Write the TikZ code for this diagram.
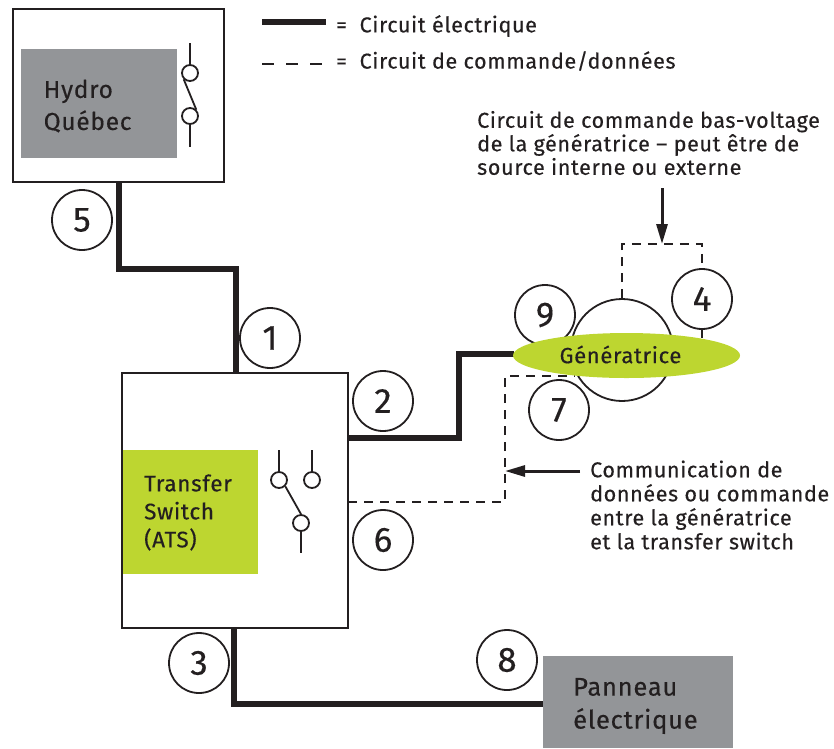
\documentclass[tikz,border=0pt]{standalone}
\usepackage{fontspec}
\setmainfont[LetterSpace=3,FakeBold=0.35]{Fira Sans}
\usetikzlibrary{arrows.meta,shapes.geometric}
\definecolor{ink}{HTML}{231F20}
\definecolor{greyfill}{HTML}{939598}
\definecolor{limefill}{HTML}{BDD630}
\tikzset{
  wire/.style={draw=ink,line width=5.5pt,line join=miter},
  ctrl/.style={draw=ink,line width=1.6pt,dash pattern=on 9pt off 7pt},
  legenddash/.style={draw=ink,line width=1.6pt,dash pattern=on 12pt off 12pt},
  thin/.style={draw=ink,line width=1.8pt},
  pointer/.style={draw=ink,line width=3pt,-{Triangle[length=20pt,width=11pt]}},
  frame/.style={draw=ink,line width=2pt,fill=white,minimum width=#1,inner sep=0pt,outer sep=0pt},
  panel/.style={fill=#1,inner sep=0pt,outer sep=0pt},
  numcirc/.style={circle,draw=ink,line width=1.8pt,minimum size=60pt,inner sep=0pt,font=\fontsize{35}{35}\selectfont,text=ink},
  swcirc/.style={circle,draw=ink,line width=1.8pt,minimum size=16pt,inner sep=0pt},
  lbl/.style 2 args={anchor=west,align=left,inner sep=0pt,text=ink,font=\fontsize{#1}{#2}\selectfont}
}
\begin{document}
\begin{tikzpicture}[x=1pt,y=-1pt]
\useasboundingbox (0,0) rectangle (834,748);
% boxes
\node[frame=211pt,minimum height=173pt] (hq) at (118.5,95.5) {};
\node[panel=greyfill,minimum width=156pt,minimum height=109pt] (hqp) at (99,103.5) {};
\node[lbl={24.5}{32}] (hqt) at (43.5,106) {Hydro\\Québec};
\node[frame=226pt,minimum height=255pt] (ats) at (235,500.5) {};
\node[panel=limefill,minimum width=135pt,minimum height=124pt] (atsp) at (190.5,512) {};
\node[lbl={22.5}{28}] (atst) at (144,512.5) {Transfer\\Switch\\(ATS)};
\node[panel=greyfill,minimum width=190pt,minimum height=92pt] (pan) at (638,702) {};
\node[lbl={25.5}{33}] (pant) at (573,706) {Panneau\\électrique};
% wires
\coordinate (hqout) at (119,182);
\coordinate (atsin) at (236,373);
\coordinate (atsout2) at (348,438);
\coordinate (genin) at (514,354);
\coordinate (atsout3) at (234,628);
\coordinate (panin) at (543,704);
\draw[wire] (hqout) -- (119,269) -- (236,269) -- (atsin);
\draw[wire] (atsout2) -- (459,438) -- (459,354) -- (genin);
\draw[wire] (atsout3) -- (234,704) -- (panin);
% HQ switch
\node[swcirc] (s1) at (190,73) {};
\node[swcirc] (s2) at (190,116) {};
\coordinate (s1t) at (190,43);
\coordinate (s2b) at (190,147);
\draw[thin] (s1t) -- (s1);
\draw[thin] (s2) -- (s2b);
\draw[thin] (s1.south west) -- (s2.north east);
% ATS switch
\node[swcirc] (a1) at (279,480) {};
\node[swcirc] (a2) at (312,480) {};
\node[swcirc] (a3) at (301,523) {};
\coordinate (a1t) at (279,450);
\coordinate (a2t) at (312,450);
\coordinate (a3b) at (301,553);
\draw[thin] (a1t) -- (a1);
\draw[thin] (a2t) -- (a2);
\draw[thin] (a3) -- (a3b);
\draw[thin] (a1.south east) -- (a3.north);
% numbers
\node[numcirc] (n5) at (82,220) {5};
\node[numcirc] (n1) at (270,338) {1};
\node[numcirc] (n2) at (383,401) {2};
\node[numcirc] (n6) at (383,540) {6};
\node[numcirc] (n3) at (199,663) {3};
\node[numcirc] (n8) at (507,660) {8};
\node[numcirc] (n9) at (545,315) {9};
\node[numcirc] (n4) at (702,299) {4};
\node[numcirc] (n7) at (559,410) {7};
% generator
\node[circle,draw=ink,line width=1.8pt,minimum size=102pt,inner sep=0pt] (gc) at (622,350) {};
\draw[thin] (n4.south) -- (702,338);
\draw[ctrl] (gc.north) -- (622,244) -- (702,244) -- (n4.north);
\coordinate (genctl) at (575,376);
\coordinate (atsctl) at (348,502);
\draw[ctrl] (atsctl) -- (505,502) -- (505,376) -- (genctl);
\node[ellipse,fill=limefill,minimum width=227pt,minimum height=45pt,inner sep=0pt,outer sep=0pt] (gen) at (626.5,355.5) {};
\node[lbl={22}{22},anchor=center] (gent) at (620.5,354.5) {Génératrice};
% legend
\coordinate (l1a) at (262,22);
\coordinate (l1b) at (326,22);
\coordinate (l2a) at (262,64);
\coordinate (l2b) at (326,64);
\draw[wire] (l1a) -- (l1b);
\draw[legenddash] (l2a) -- (l2b);
\node[lbl={21.5}{24}] (t1) at (336,26) {=\ \ Circuit électrique};
\node[lbl={21.5}{24}] (t2) at (336,61) {=\ \ Circuit de commande/données};
% notes
\node[lbl={21.5}{23.5}] (note1) at (477,143) {Circuit de commande bas-voltage\\de la génératrice – peut être de\\source interne ou externe};
\coordinate (arr1a) at (662,188);
\coordinate (arr1b) at (662,244);
\draw[pointer] (arr1a) -- (arr1b);
\node[lbl={21.5}{24}] (note2) at (590,505) {Communication de\\données ou commande\\entre la génératrice\\et la transfer switch};
\coordinate (arr2a) at (580,471);
\coordinate (arr2b) at (505,471);
\draw[pointer] (arr2a) -- (arr2b);
\end{tikzpicture}
\end{document}
